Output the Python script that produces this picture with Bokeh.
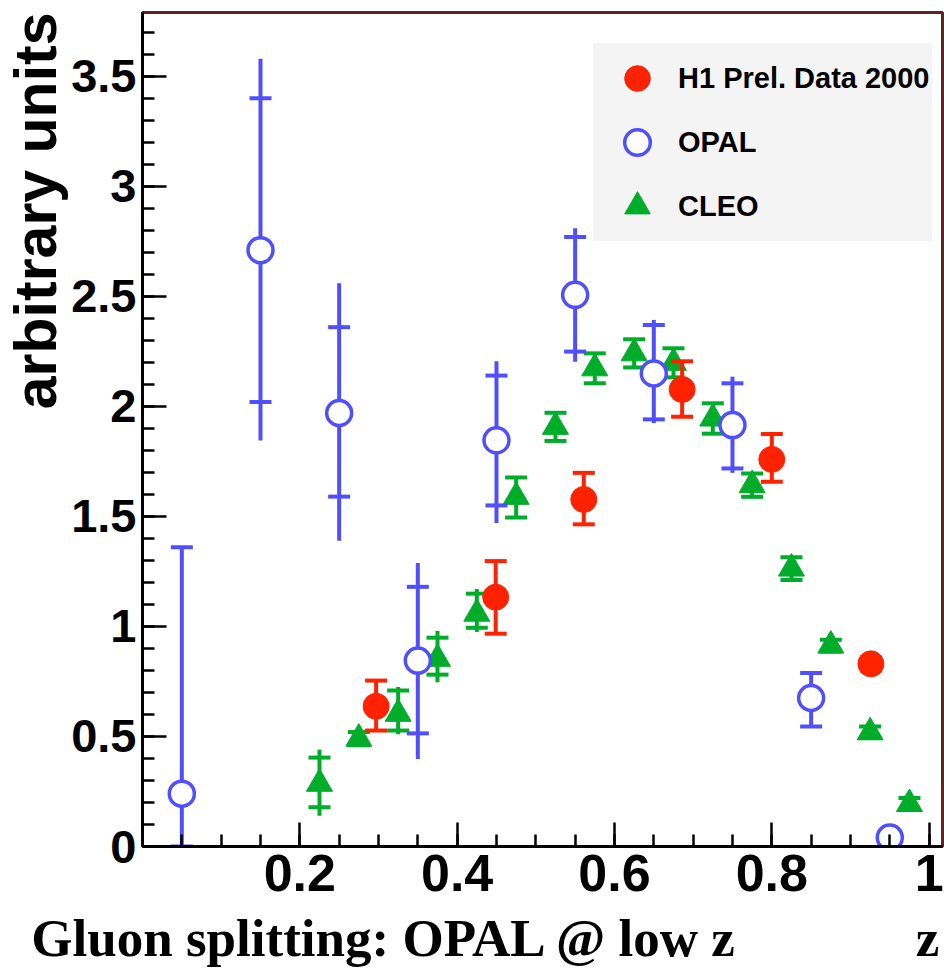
import numpy as np
from bokeh.plotting import figure
from bokeh.models import (ColumnDataSource, FixedTicker, Legend, LegendItem,
                          LinearAxis, Range1d, Title)
from bokeh.embed import file_html
from bokeh.resources import INLINE

# ---------------- data ----------------
opal_z = [0.05, 0.15, 0.25, 0.35, 0.45, 0.55, 0.65, 0.75, 0.85, 0.95]
opal_y = [0.24, 2.71, 1.97, 0.845, 1.846, 2.507, 2.150, 1.915, 0.675, 0.041]
opal_stat_hi = [1.36, 3.40, 2.36, 1.18, 2.14, 2.77, 2.37, 2.105, 0.789, 0.06]
opal_stat_lo = [0.0, 2.02, 1.59, 0.514, 1.55, 2.249, 1.941, 1.718, 0.545, 0.02]
opal_tot_hi = [1.36, 3.58, 2.56, 1.288, 2.205, 2.81, 2.393, 2.135, 0.789, 0.06]
opal_tot_lo = [0.0, 1.845, 1.39, 0.398, 1.47, 2.203, 1.924, 1.698, 0.545, 0.02]

h1_z = [0.297, 0.449, 0.561, 0.686, 0.800, 0.926]
h1_y = [0.637, 1.133, 1.577, 2.077, 1.759, 0.830]
h1_hi = [0.754, 1.297, 1.698, 2.205, 1.874, 0.86]
h1_lo = [0.527, 0.967, 1.464, 1.953, 1.657, 0.80]

cleo_z = [0.225, 0.275, 0.325, 0.375, 0.425, 0.475, 0.525, 0.575,
          0.625, 0.675, 0.725, 0.775, 0.825, 0.875, 0.925, 0.975]
cleo_y = [0.285, 0.49, 0.603, 0.853, 1.058, 1.589, 1.907, 2.173,
          2.241, 2.198, 1.945, 1.642, 1.263, 0.913, 0.519, 0.193]
cleo_stat_hi = [0.404, 0.52, 0.709, 0.949, 1.149, 1.677, 1.971, 2.241,
                2.305, 2.264, 2.014, 1.695, 1.315, 0.94, 0.545, 0.22]
cleo_stat_lo = [0.178, 0.46, 0.527, 0.781, 0.994, 1.495, 1.843, 2.105,
                2.177, 2.132, 1.876, 1.589, 1.211, 0.886, 0.493, 0.166]
cleo_tot_hi = [0.44, 0.52, 0.725, 0.98, 1.17, 1.68, 1.975, 2.245,
               2.31, 2.27, 2.02, 1.70, 1.32, 0.94, 0.545, 0.22]
cleo_tot_lo = [0.14, 0.46, 0.51, 0.746, 0.975, 1.49, 1.84, 2.10,
               2.17, 2.13, 1.87, 1.585, 1.205, 0.886, 0.493, 0.166]

x_ticks = [0.2, 0.4, 0.6, 0.8, 1.0]
x_tick_labels = ["0.2", "0.4", "0.6", "0.8", "1"]
y_ticks = [0.0, 0.5, 1.0, 1.5, 2.0, 2.5, 3.0, 3.5]
y_tick_labels = ["0", "0.5", "1", "1.5", "2", "2.5", "3", "3.5"]

legend_labels = ["H1 Prel. Data 2000", "OPAL", "CLEO"]
y_title = "arbitrary units"
x_title = "z"
caption = "Gluon splitting: OPAL @ low z"
caption_pos = 0.3077   # centre of the caption, in z units
x_title_pos = 0.998

RED = "#ff2200"
BLUE = "#4f4fff"
GREEN = "#00ad2a"
FONT = "Liberation Sans"
LEG_BG = "#f4f4f4"

# ---------------- figure ----------------
p = figure(width=944, height=972,
           x_range=Range1d(0, 1.017), y_range=Range1d(0, 3.79),
           output_backend="svg", toolbar_location=None,
           min_border_left=142, min_border_right=2,
           min_border_top=12, min_border_bottom=126)
p.grid.visible = False
p.background_fill_color = "white"
p.border_fill_color = "white"
p.outline_line_color = "#5a2626"
p.outline_line_width = 3

xminor = [round(0.05 * i, 2) for i in range(1, 21)]
yminor = [round(0.1 * i, 1) for i in range(1, 38)]
p.xaxis.ticker = FixedTicker(ticks=x_ticks, minor_ticks=xminor)
p.yaxis.ticker = FixedTicker(ticks=y_ticks, minor_ticks=yminor)
p.xaxis.major_label_overrides = dict(zip(x_ticks, x_tick_labels))
p.yaxis.major_label_overrides = dict(zip(y_ticks, y_tick_labels))

for ax in (p.xaxis[0], p.yaxis[0]):
    ax.axis_line_color = "black"
    ax.axis_line_width = 3
    ax.major_tick_in = 24
    ax.major_tick_out = 0
    ax.minor_tick_in = 12
    ax.minor_tick_out = 0
    ax.major_tick_line_width = 2.5
    ax.minor_tick_line_width = 2.5
    ax.major_tick_line_color = "black"
    ax.minor_tick_line_color = "black"
    ax.major_label_text_font = FONT
    ax.major_label_text_font_style = "bold"
    ax.major_label_text_color = "black"

p.xaxis.major_label_text_font_size = "52px"
p.xaxis.major_label_standoff = 8
p.yaxis.major_label_text_font_size = "47px"
p.yaxis.major_label_standoff = 6

# caption line under the x axis (axis title "z" and the slide caption)
cap_axis = LinearAxis(ticker=FixedTicker(ticks=[caption_pos, x_title_pos], minor_ticks=[]),
                      major_label_overrides={caption_pos: caption, x_title_pos: x_title},
                      axis_line_color=None, major_tick_line_color=None,
                      minor_tick_line_color=None, major_tick_in=0, major_tick_out=0,
                      minor_tick_in=0, minor_tick_out=0, major_label_standoff=15,
                      major_label_text_font="Liberation Serif",
                      major_label_text_font_style="bold",
                      major_label_text_font_size="53px",
                      major_label_text_color="black")
p.add_layout(cap_axis, "below")

# y axis title
p.add_layout(Title(text=y_title, align="right", text_font=FONT, text_font_style="bold",
                   text_font_size="59px", text_color="black", standoff=0, offset=0),
             "left")

# ---------------- CLEO ----------------
cleo = ColumnDataSource(dict(z=cleo_z, y=cleo_y, shi=cleo_stat_hi, slo=cleo_stat_lo,
                             thi=cleo_tot_hi, tlo=cleo_tot_lo))
p.segment(x0="z", y0="tlo", x1="z", y1="thi", source=cleo, line_color=GREEN, line_width=4)
p.scatter(x="z", y="shi", source=cleo, marker="dash", size=22, line_color=GREEN, line_width=4)
p.scatter(x="z", y="slo", source=cleo, marker="dash", size=22, line_color=GREEN, line_width=4)
r_cleo = p.scatter(x="z", y="y", source=cleo, marker="triangle", size=26,
                   fill_color=GREEN, line_color=GREEN, line_width=1)

# ---------------- H1 ----------------
h1 = ColumnDataSource(dict(z=h1_z, y=h1_y, hi=h1_hi, lo=h1_lo))
p.segment(x0="z", y0="lo", x1="z", y1="hi", source=h1, line_color=RED, line_width=4)
p.scatter(x="z", y="hi", source=h1, marker="dash", size=22, line_color=RED, line_width=4)
p.scatter(x="z", y="lo", source=h1, marker="dash", size=22, line_color=RED, line_width=4)
r_h1 = p.scatter(x="z", y="y", source=h1, marker="circle", size=26,
                 fill_color=RED, line_color=RED, line_width=1)

# ---------------- OPAL ----------------
opal = ColumnDataSource(dict(z=opal_z, y=opal_y, shi=opal_stat_hi, slo=opal_stat_lo,
                             thi=opal_tot_hi, tlo=opal_tot_lo))
p.segment(x0="z", y0="tlo", x1="z", y1="thi", source=opal, line_color=BLUE, line_width=4)
p.scatter(x="z", y="shi", source=opal, marker="dash", size=22, line_color=BLUE, line_width=4)
p.scatter(x="z", y="slo", source=opal, marker="dash", size=22, line_color=BLUE, line_width=4)
r_opal = p.scatter(x="z", y="y", source=opal, marker="circle", size=25,
                   fill_color="white", line_color=BLUE, line_width=3.5)

# ---------------- legend ----------------
legend = Legend(items=[LegendItem(label=legend_labels[0], renderers=[r_h1]),
                       LegendItem(label=legend_labels[1], renderers=[r_opal]),
                       LegendItem(label=legend_labels[2], renderers=[r_cleo])],
                location=(451, 605), padding=2, spacing=0, margin=0,
                glyph_height=64, glyph_width=82, label_height=64, label_standoff=0,
                label_text_font=FONT, label_text_font_style="bold",
                label_text_font_size="29px", label_text_color="black",
                background_fill_color=LEG_BG, background_fill_alpha=1.0,
                border_line_color=LEG_BG, border_line_width=1)
p.add_layout(legend)

open("out.html", "w").write(file_html(p, INLINE))
